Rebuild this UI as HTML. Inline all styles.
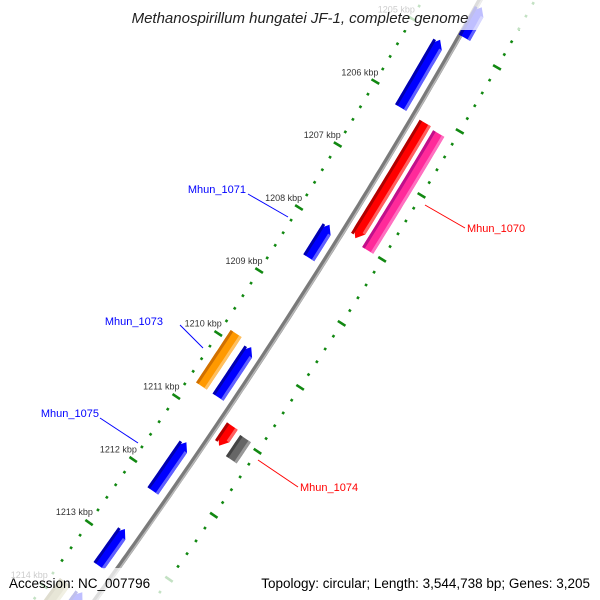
<!DOCTYPE html>
<html><head><meta charset="utf-8"><style>
html,body{margin:0;padding:0;background:#fff;width:600px;height:600px;overflow:hidden}
svg{display:block;font-family:"Liberation Sans",sans-serif;overflow:hidden}
</style></head><body>
<svg id="map" width="600" height="600" viewBox="0 0 600 600" overflow="hidden">
<g id="tracks"></g>
<g id="backbone"></g>
<g id="genes"></g>
<g id="labels"></g>
<rect x="0" y="0" width="600" height="30" fill="#fff" fill-opacity="0.75"/>
<text x="300" y="23" text-anchor="middle" font-size="15" font-style="italic" fill="#222">Methanospirillum hungatei JF-1, complete genome</text>
<rect x="0" y="568" width="600" height="32" fill="#fff" fill-opacity="0.75"/>
<text x="9" y="588" font-size="13.5" fill="#000">Accession: NC_007796</text>
<text x="590" y="588" text-anchor="end" font-size="13.5" fill="#000">Topology: circular; Length: 3,544,738 bp; Genes: 3,205</text>
</svg>
<script>
// tick data (kbp)
const tickKbp = [1205,1206,1207,1208,1209,1210,1211,1212,1213,1214];
const tickLabels = ["1205 kbp","1206 kbp","1207 kbp","1208 kbp","1209 kbp","1210 kbp","1211 kbp","1212 kbp","1213 kbp","1214 kbp"];
// gene data
const geneNames = ["g-top","g-blue1","Mhun_1070a","Mhun_1070","Mhun_1071","Mhun_1073","g-blue3","Mhun_1074a","Mhun_1074","Mhun_1075","g-blue5","g-khaki","g-blue6"];
const geneStart = [1204.39,1205.06,1206.14,1206.17,1207.98,1209.87,1209.91,1210.91,1210.95,1211.42,1212.80,1213.80,1213.78];
const geneEnd   = [1204.87,1206.13,1207.95,1208.00,1208.50,1210.70,1210.70,1211.22,1211.28,1212.19,1213.38,1214.40,1214.40];
const geneArrow = [-1,-1,1,0,-1,0,-1,1,0,-1,-1,0,-1];
const geneTrack = [5,-15,14,31,-15,-35,-15,13,31,-16,-17,-35,-15];
const geneColor = ["#0000ff","#0000ff","#ff0000","#ff2a9a","#0000ff","#ff9900","#0000ff","#ff0000","#666666","#0000ff","#0000ff","#a09a60","#0000ff"];
const geneDark  = ["#0000b0","#0000b0","#b00000","#c0108a","#0000b0","#d07000","#0000b0","#b00000","#444444","#0000b0","#0000b0","#807a40","#0000b0"];
const geneLight = ["#6060ff","#6060ff","#ff6060","#ff70c0","#6060ff","#ffc060","#6060ff","#ff6060","#999999","#6060ff","#6060ff","#c8c290","#6060ff"];

const NS="http://www.w3.org/2000/svg";
const A=480,B=-0.561,C=-0.000134;
function kToS(k){return 107+(k-1206)*63.5;}
function P(s,d){const xb=A+B*s+C*s*s;const sl=B+2*C*s;const n=Math.sqrt(1+sl*sl);return [xb+d/n, s-d*sl/n];}
function mk(tag,attrs,parent){const e=document.createElementNS(NS,tag);for(const k in attrs)e.setAttribute(k,attrs[k]);parent.appendChild(e);return e;}

const bb=document.getElementById('backbone');
function pathAt(d){let p=[];for(let s=-30;s<=640;s+=5){const q=P(s,d);p.push(q[0].toFixed(1)+','+q[1].toFixed(1));}return 'M'+p.join('L');}
const bl1=mk('path',{d:pathAt(0),stroke:'#7a7a7a','stroke-width':5,fill:'none'},bb);


const bl2=mk('path',{d:pathAt(1.5),stroke:'#b8b8b8','stroke-width':1.5,fill:'none'},bb);



const tr=document.getElementById('tracks');
const kMin=1204,kMax=1215;
[-50,48].forEach(function(d){
  for(let i=0;i<=(kMax-kMin)*5;i++){
    const k=kMin+i*0.2;const s=kToS(k);
    const major=tickKbp.some(t=>Math.abs(t-k)<1e-6);
    const len=major?9:2.6;
    const a=P(s,d-len/2),b=P(s,d+len/2);
    const l=mk('line',{x1:a[0],y1:a[1],x2:b[0],y2:b[1],stroke:'#118811','stroke-width':2.6},tr);
    
    
  }
});
tickKbp.forEach(function(k,i){
  const p=P(kToS(k),-68);
  const t=mk('text',{x:p[0],y:p[1]+3,'text-anchor':'middle','font-size':9,fill:'#333'},tr);
  t.textContent=tickLabels[i];
  
  
});

const gg=document.getElementById('genes');
const W=13,AH=7;
function genePoly(s1,s2,d0,dA,dB,arrow){
  let L=[],R=[];
  let a1=s1,a2=s2;
  if(arrow<0)a1=s1+AH; if(arrow>0)a2=s2-AH;
  for(let s=a1;s<a2;s+=4){L.push(P(s,dA));R.push(P(s,dB));}
  L.push(P(a2,dA));R.push(P(a2,dB));
  let pts=[];
  if(arrow<0){pts.push(P(s1,(dA+dB)/2));}
  pts=pts.concat(R);
  if(arrow>0){pts.push(P(s2,(dA+dB)/2));}
  pts=pts.concat(L.reverse());
  return pts.map(p=>p[0].toFixed(1)+','+p[1].toFixed(1)).join(' ');
}
geneStart.forEach(function(k1,i){
  const s1=kToS(k1),s2=kToS(geneEnd[i]),d=geneTrack[i],ar=geneArrow[i];
  const g=mk('g',{},gg);
  
  
  mk('polygon',{points:genePoly(s1,s2,d,d-W/2,d+W/2,ar),fill:geneColor[i]},g);
  mk('polygon',{points:genePoly(s1+(ar<0?2:0),s2-(ar>0?2:0),d,d-W/2,d-W/2+3,0),fill:geneDark[i]},g);
  mk('polygon',{points:genePoly(s1+(ar<0?AH:0),s2-(ar>0?AH:0),d,d+W/2-3,d+W/2,0),fill:geneLight[i]},g);
});

const lg=document.getElementById('labels');
const lblText=["Mhun_1071","Mhun_1070","Mhun_1073","Mhun_1075","Mhun_1074"];
const lblColor=["#0000ff","#ff0000","#0000ff","#0000ff","#ff0000"];
const lblPos=[[246,193,"end",248,194,288,217],[467,232,"start",425,205,465,228],[163,325,"end",180,325,203,348],[99,417,"end",100,418,138,443],[300,491,"start",258,460,298,487]];
lblPos.forEach(function(p,i){
  const l=mk('line',{x1:p[3],y1:p[4],x2:p[5],y2:p[6],stroke:lblColor[i],'stroke-width':1},lg);
  
  
  const t=mk('text',{x:p[0],y:p[1],'text-anchor':p[2],'font-size':11,fill:lblColor[i]},lg);
  t.textContent=lblText[i];
  
  
});
</script>
</body></html>
